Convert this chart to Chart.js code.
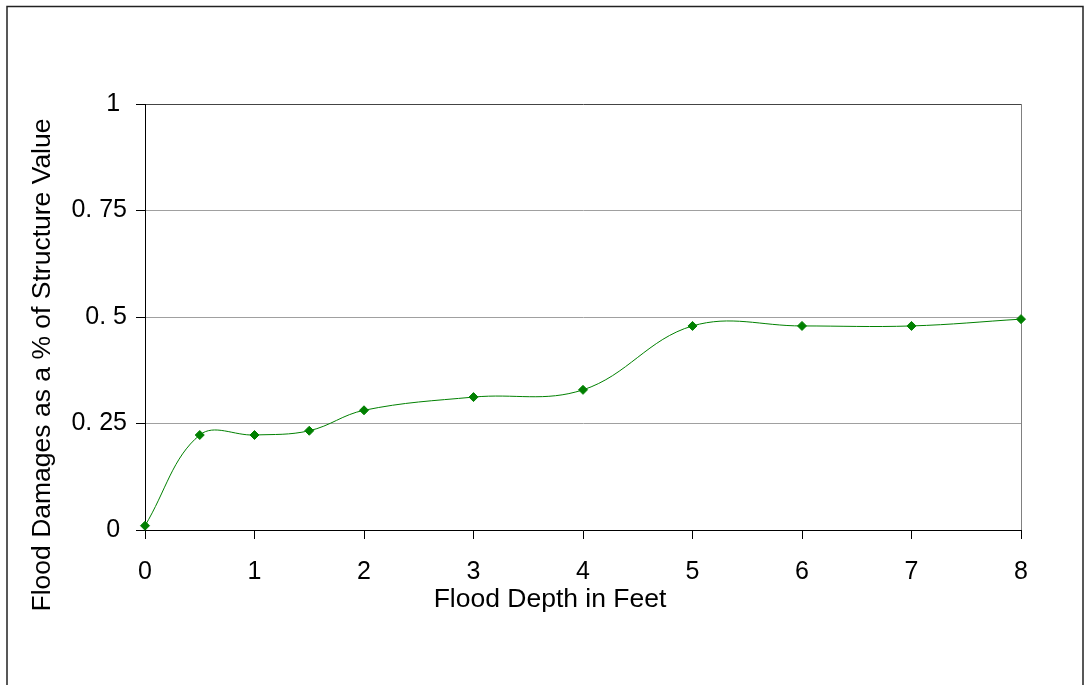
<!DOCTYPE html>
<html>
<head>
<meta charset="utf-8">
<script src="https://cdn.jsdelivr.net/npm/chart.js@4/dist/chart.umd.min.js"></script>
<style>
  html, body { margin: 0; padding: 0; background: #fff; }
  #wrap { width: 1087px; height: 685px; position: relative; }
</style>
</head>
<body>
<div id="wrap"><canvas id="c" width="1087" height="685"></canvas></div>
<script>
// Data
const depthFeet = [0, 0.5, 1, 1.5, 2, 3, 4, 5, 6, 7, 8];
const damageShare = [0.01, 0.223, 0.223, 0.233, 0.281, 0.312, 0.329, 0.479, 0.479, 0.479, 0.495];
const yTickValues = [0, 0.25, 0.5, 0.75, 1];
const yTickLabels = ['0 ', '0. 25', '0. 5', '0. 75', '1 '];
const xTickLabels = ['0', '1', '2', '3', '4', '5', '6', '7', '8'];
const xTitle = 'Flood Depth in Feet';
const yTitle = 'Flood Damages as a % of Structure Value';

const FONT = "'Liberation Sans', Arial, sans-serif";
const GREEN = '#008000';

const points = depthFeet.map((x, i) => ({ x: x, y: damageShare[i] }));

const framePlugin = {
  id: 'frame',
  beforeDatasetsDraw(chart) {
    const ctx = chart.ctx;
    const a = chart.chartArea;
    ctx.save();
    // plot-area right border
    ctx.strokeStyle = '#808080';
    ctx.lineWidth = 1;
    ctx.beginPath();
    ctx.moveTo(Math.round(a.right) + 0.5, a.top);
    ctx.lineTo(Math.round(a.right) + 0.5, a.bottom);
    ctx.stroke();
    ctx.restore();
  },
  afterDraw(chart) {
    const ctx = chart.ctx;
    ctx.save();
    // outer chart border (top, left, right)
    ctx.strokeStyle = '#222';
    ctx.lineWidth = 1.5;
    ctx.beginPath();
    ctx.moveTo(7, 690);
    ctx.lineTo(7, 6.5);
    ctx.lineTo(1083, 6.5);
    ctx.lineTo(1083, 690);
    ctx.stroke();
    // axis titles (positioned as in the reference, centred on the whole chart)
    ctx.fillStyle = '#000';
    ctx.font = '26.5px ' + FONT;
    ctx.textAlign = 'center';
    ctx.textBaseline = 'alphabetic';
    ctx.fillText(xTitle, 550, 607);
    ctx.translate(50, 365);
    ctx.rotate(-Math.PI / 2);
    ctx.fillText(yTitle, 0, 0);
    ctx.restore();
  }
};

new Chart(document.getElementById('c'), {
  type: 'scatter',
  data: {
    datasets: [{
      data: points,
      showLine: true,
      clip: false,
      borderColor: GREEN,
      backgroundColor: GREEN,
      borderWidth: 1,
      tension: 0.38,
      pointStyle: 'rectRot',
      pointRadius: 4.5,
      pointBorderWidth: 1,
      pointBorderColor: GREEN,
      pointBackgroundColor: GREEN
    }]
  },
  options: {
    responsive: false,
    animation: false,
    devicePixelRatio: 1,
    layout: { padding: { left: 25, top: 104, right: 66, bottom: 72 } },
    plugins: {
      legend: { display: false },
      tooltip: { enabled: false }
    },
    scales: {
      x: {
        type: 'linear',
        min: 0, max: 8,
        afterFit(s) { s.height = 83; },
        afterBuildTicks(s) { s.ticks = xTickLabels.map((t, i) => ({ value: i })); },
        ticks: {
          color: '#000',
          font: { family: FONT, size: 25 },
          padding: 18,
          maxRotation: 0,
          callback: (v, i) => xTickLabels[i]
        },
        grid: { drawOnChartArea: false, drawTicks: true, tickLength: 9, tickColor: '#000', color: '#000' },
        border: { display: true, color: '#000', width: 1 },
        title: { display: false }
      },
      y: {
        type: 'linear',
        min: 0, max: 1,
        afterFit(s) { s.width = 120; },
        afterBuildTicks(s) { s.ticks = yTickValues.map(v => ({ value: v })); },
        ticks: {
          color: '#000',
          font: { family: FONT, size: 25 },
          padding: 9,
          callback: (v, i) => yTickLabels[i]
        },
        grid: {
          drawTicks: true, tickLength: 9, tickColor: '#000',
          color: (c) => (c.tick && c.tick.value === 1) ? '#444' : '#a0a0a0',
          lineWidth: 1
        },
        border: { display: true, color: '#000', width: 1 },
        title: { display: false }
      }
    }
  },
  plugins: [framePlugin]
});
</script>
</body>
</html>
